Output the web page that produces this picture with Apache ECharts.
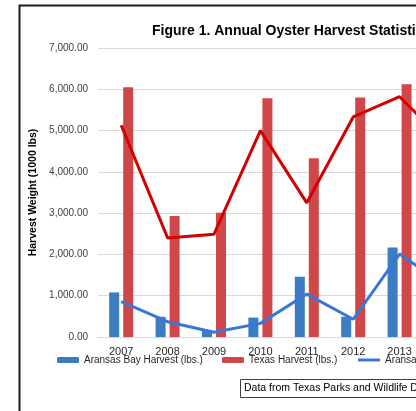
<!DOCTYPE html>
<html><head><meta charset="utf-8">
<script src="https://cdn.jsdelivr.net/npm/echarts@6/dist/echarts.min.js"></script>
<style>html,body{margin:0;padding:0;overflow:hidden;background:#fff;width:416px;height:411px}#c{width:620px;height:411px}</style>
</head><body><div id="c"></div>
<script>
const years = ['2007','2008','2009','2010','2011','2012','2013','2014'];
const aransasBars = [1080, 490, 170, 470, 1460, 490, 2170, null];
const texasBars = [6050, 2930, 3010, 5780, 4330, 5800, 6120, null];
const aransasLine = [855, 370, 115, 330, 1040, 430, 2010, 1230];
const texasLine = [5130, 2400, 2490, 5000, 3250, 5330, 5820, 4700];
const yTicks = [0, 1000, 2000, 3000, 4000, 5000, 6000, 7000];

const FONT = 'Liberation Sans';
const LEG = {fontFamily: FONT, fontSize: 10, color: '#262626'};
const chart = echarts.init(document.getElementById('c'), null, {renderer: 'canvas'});
chart.setOption({
  animation: false,
  backgroundColor: '#fff',
  title: {
    text: 'Figure 1. Annual Oyster Harvest Statistics',
    left: 147, top: 19,
    textStyle: {fontFamily: FONT, fontWeight: 'bold', fontSize: 14, color: '#000'}
  },
  grid: {left: 98, top: 48, width: 371.2, height: 289, containLabel: false},
  legend: [
    {left: 57, top: 355, padding: 0, itemWidth: 22, itemHeight: 6, itemGap: 3,
     data: ['Aransas Bay Harvest (lbs.)'], textStyle: LEG},
    {left: 222, top: 355, padding: 0, itemWidth: 22, itemHeight: 6,
     data: ['Texas Harvest (lbs.)'], textStyle: LEG},
    {left: 358, top: 355, padding: 0, itemWidth: 22, itemHeight: 6,
     data: [{name: 'Aransas Bay Harvest Trend', icon: 'path://M0,0 L22,0 L22,3 L0,3 Z'}], textStyle: LEG},
    {left: 520, top: 355, padding: 0, itemWidth: 22, itemHeight: 6,
     data: [{name: 'Texas Harvest Trend', icon: 'path://M0,0 L22,0 L22,3 L0,3 Z'}], textStyle: LEG}
  ],
  xAxis: {
    type: 'category', data: years,
    axisLine: {lineStyle: {color: '#d9d9d9', width: 1}},
    axisTick: {show: false},
    axisLabel: {fontFamily: FONT, fontSize: 11, color: '#262626', margin: 9}
  },
  yAxis: {
    type: 'value', min: 0, max: 7000, interval: 1000,
    name: 'Harvest Weight (1000 lbs)', nameLocation: 'middle', nameGap: 58,
    nameTextStyle: {fontFamily: FONT, fontWeight: 'bold', fontSize: 10.5, color: '#000'},
    axisLine: {show: false}, axisTick: {show: false},
    splitLine: {lineStyle: {color: '#d9d9d9', width: 1}},
    axisLabel: {fontFamily: FONT, fontSize: 10, color: '#404040', margin: 10,
      formatter: v => yTicks.includes(v) ? v.toLocaleString('en-US', {minimumFractionDigits: 2, maximumFractionDigits: 2}) : ''}
  },
  series: [
    {name: 'Aransas Bay Harvest (lbs.)', type: 'bar', data: aransasBars, barWidth: 10, barGap: '40%',
     itemStyle: {color: '#3b7cc3'}},
    {name: 'Texas Harvest (lbs.)', type: 'bar', data: texasBars, barWidth: 10, barGap: '40%',
     itemStyle: {color: '#cf4748'}},
    {name: 'Aransas Bay Harvest Trend', type: 'line', data: aransasLine, symbol: 'none',
     lineStyle: {color: '#3a76d6', width: 3}, itemStyle: {color: '#3a76d6'}},
    {name: 'Texas Harvest Trend', type: 'line', data: texasLine, symbol: 'none',
     lineStyle: {color: '#d40000', width: 3}, itemStyle: {color: '#d40000'}}
  ],
  graphic: [
    {type: 'rect', shape: {x: 19.5, y: 5.5, width: 700, height: 500}, silent: true,
     style: {fill: 'none', stroke: '#1a1a1a', lineWidth: 2}},
    {type: 'group', left: 240, top: 379, children: [
      {type: 'rect', shape: {x: 0.5, y: 0.5, width: 260, height: 18},
       style: {fill: '#fff', stroke: '#404040', lineWidth: 1}},
      {type: 'text', x: 4, y: 4, style: {text: 'Data from Texas Parks and Wildlife Department',
       fontFamily: FONT, fontSize: 10.5, fill: '#000'}}
    ]}
  ]
});
</script></body></html>
